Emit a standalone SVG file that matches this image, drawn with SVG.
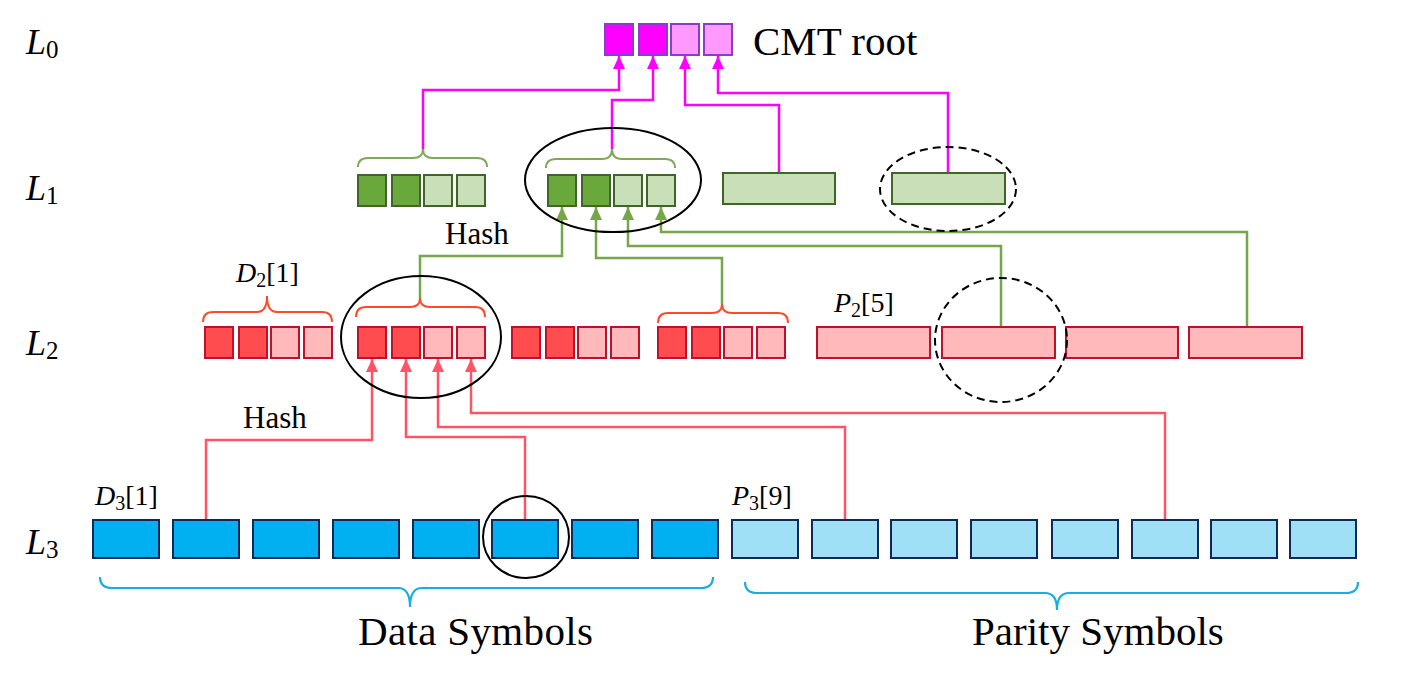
<svg xmlns="http://www.w3.org/2000/svg" width="1427" height="682" viewBox="0 0 1427 682">
<defs>
<style>
text{font-family:"Liberation Serif","Times New Roman",serif;fill:#000}
.lvl{font-size:36px}
.lbl{font-size:28px}
.big{font-size:41px}
.hash{font-size:31px}
.r0d{fill:#FF00FF;stroke:#8A3CCF;stroke-width:2}
.r0l{fill:#FF99FF;stroke:#8A3CCF;stroke-width:2}
.g1d{fill:#6BA83C;stroke:#3F6529;stroke-width:2}
.g1l{fill:#C9DFB8;stroke:#3F6529;stroke-width:2}
.r2d{fill:#FF4D4F;stroke:#C0102A;stroke-width:2}
.r2l{fill:#FFB9BB;stroke:#C0102A;stroke-width:2}
.b3d{fill:#00B0F0;stroke:#102A55;stroke-width:2}
.b3l{fill:#A0E0F6;stroke:#102A55;stroke-width:2}
.brg{fill:none;stroke:#7FA85A;stroke-width:2}
.brr{fill:none;stroke:#FF4A2A;stroke-width:2}
.brb{fill:none;stroke:#19AEDC;stroke-width:2.2}
.cm{fill:none;stroke:#FF00FF;stroke-width:2.5;marker-end:url(#am)}
.cg{fill:none;stroke:#76A64A;stroke-width:2.5;marker-end:url(#ag)}
.cr{fill:none;stroke:#FF5466;stroke-width:2.5;marker-end:url(#ar)}
.ell{fill:none;stroke:#000;stroke-width:2}
.dash{fill:none;stroke:#000;stroke-width:2;stroke-dasharray:8 5}
</style>
<marker id="am" markerUnits="userSpaceOnUse" markerWidth="13" markerHeight="12" refX="13" refY="6" orient="auto"><path d="M0,0 L13,6 L0,12 z" fill="#FF00FF"/></marker>
<marker id="ag" markerUnits="userSpaceOnUse" markerWidth="13" markerHeight="12" refX="13" refY="6" orient="auto"><path d="M0,0 L13,6 L0,12 z" fill="#76A64A"/></marker>
<marker id="ar" markerUnits="userSpaceOnUse" markerWidth="13" markerHeight="12" refX="13" refY="6" orient="auto"><path d="M0,0 L13,6 L0,12 z" fill="#FF5466"/></marker>
</defs>
<rect width="1427" height="682" fill="#fff"/>

<g id="level-labels">
<text class="lvl" x="26" y="54"><tspan font-style="italic">L</tspan><tspan font-size="25" dy="4">0</tspan></text>
<text class="lvl" x="26" y="200"><tspan font-style="italic">L</tspan><tspan font-size="25" dy="4">1</tspan></text>
<text class="lvl" x="26" y="355"><tspan font-style="italic">L</tspan><tspan font-size="25" dy="4">2</tspan></text>
<text class="lvl" x="26" y="554"><tspan font-style="italic">L</tspan><tspan font-size="25" dy="4">3</tspan></text>
</g>

<g id="connectors">
<path class="cm" d="M423,149 V90 H619 V56"/>
<path class="cm" d="M612,149 V100 H653 V56"/>
<path class="cm" d="M779,173 V105 H685 V56"/>
<path class="cm" d="M948,173 V93 H718 V56"/>
<path class="cg" d="M420,298 V256 H562 V207"/>
<path class="cg" d="M722,304 V258 H596 V207"/>
<path class="cg" d="M1001,327 V246 H628 V207"/>
<path class="cg" d="M1247,327 V232 H661 V207"/>
<path class="cr" d="M206,520 V440 H372 V359"/>
<path class="cr" d="M525,520 V437 H406 V359"/>
<path class="cr" d="M845,520 V427 H438 V359"/>
<path class="cr" d="M1165,520 V413 H471 V359"/>
</g>

<g id="cmt-root">
<rect class="r0d" x="605" y="24" width="28" height="31"/>
<rect class="r0d" x="639" y="24" width="28" height="31"/>
<rect class="r0l" x="671" y="24" width="28" height="31"/>
<rect class="r0l" x="704" y="24" width="28" height="31"/>
<text class="big" x="753" y="55">CMT root</text>
</g>

<g id="l1-group1">
<path class="brg" d="M358,167 Q358,158 368,158 L413,158 Q423,158 423,149 Q423,158 433,158 L477,158 Q487,158 487,167"/>
<rect class="g1d" x="358" y="175" width="28" height="31"/>
<rect class="g1d" x="392" y="175" width="28" height="31"/>
<rect class="g1l" x="424" y="175" width="28" height="31"/>
<rect class="g1l" x="457" y="175" width="28" height="31"/>
</g>
<g id="l1-group2">
<path class="brg" d="M546,168 Q546,159 556,159 L602,159 Q612,159 612,149 Q612,159 622,159 L665,159 Q675,159 675,168"/>
<rect class="g1d" x="548" y="175" width="28" height="31"/>
<rect class="g1d" x="582" y="175" width="28" height="31"/>
<rect class="g1l" x="614" y="175" width="28" height="31"/>
<rect class="g1l" x="647" y="175" width="28" height="31"/>
<ellipse class="ell" cx="613" cy="180" rx="88" ry="52"/>
</g>
<g id="l1-parity1">
<rect class="g1l" x="723" y="173" width="112" height="31"/>
</g>
<g id="l1-parity2">
<rect class="g1l" x="892" y="173" width="113" height="31"/>
<ellipse class="dash" cx="948" cy="189" rx="68" ry="42"/>
</g>

<g id="hash-labels">
<text class="hash" x="445" y="244">Hash</text>
<text class="hash" x="243" y="428">Hash</text>
</g>

<g id="l2-group1">
<text class="lbl" x="236" y="282"><tspan font-style="italic">D</tspan><tspan font-size="20" dy="5">2</tspan><tspan dy="-5">[1]</tspan></text>
<path class="brr" d="M203,322 Q203,312 213,312 L257,312 Q267,312 267,296 Q267,312 277,312 L322,312 Q332,312 332,322"/>
<rect class="r2d" x="205" y="327" width="28" height="31"/>
<rect class="r2d" x="239" y="327" width="28" height="31"/>
<rect class="r2l" x="271" y="327" width="28" height="31"/>
<rect class="r2l" x="304" y="327" width="28" height="31"/>
</g>
<g id="l2-group2">
<path class="brr" d="M356,317 Q356,307 366,307 L410,307 Q420,307 420,298 Q420,307 430,307 L475,307 Q485,307 485,317"/>
<rect class="r2d" x="358" y="327" width="28" height="31"/>
<rect class="r2d" x="392" y="327" width="28" height="31"/>
<rect class="r2l" x="424" y="327" width="28" height="31"/>
<rect class="r2l" x="457" y="327" width="28" height="31"/>
<ellipse class="ell" cx="421" cy="337" rx="80" ry="61"/>
</g>
<g id="l2-group3">
<rect class="r2d" x="512" y="327" width="28" height="31"/>
<rect class="r2d" x="546" y="327" width="28" height="31"/>
<rect class="r2l" x="578" y="327" width="28" height="31"/>
<rect class="r2l" x="611" y="327" width="28" height="31"/>
</g>
<g id="l2-group4">
<path class="brr" d="M658,323 Q658,313 668,313 L712,313 Q722,313 722,304 Q722,313 732,313 L778,313 Q788,313 788,323"/>
<rect class="r2d" x="658" y="327" width="28" height="31"/>
<rect class="r2d" x="692" y="327" width="28" height="31"/>
<rect class="r2l" x="724" y="327" width="28" height="31"/>
<rect class="r2l" x="757" y="327" width="28" height="31"/>
</g>
<g id="l2-parity">
<text class="lbl" x="834" y="312"><tspan font-style="italic">P</tspan><tspan font-size="20" dy="5">2</tspan><tspan dy="-5">[5]</tspan></text>
<rect class="r2l" x="817" y="327" width="113" height="31"/>
<rect class="r2l" x="942" y="327" width="113" height="31"/>
<rect class="r2l" x="1066" y="327" width="112" height="31"/>
<rect class="r2l" x="1189" y="327" width="113" height="31"/>
<ellipse class="dash" cx="1001" cy="340" rx="66" ry="62"/>
</g>

<g id="l3-data">
<text class="lbl" x="95" y="505"><tspan font-style="italic">D</tspan><tspan font-size="20" dy="5">3</tspan><tspan dy="-5">[1]</tspan></text>
<rect class="b3d" x="93" y="520" width="66" height="38"/>
<rect class="b3d" x="173" y="520" width="66" height="38"/>
<rect class="b3d" x="253" y="520" width="66" height="38"/>
<rect class="b3d" x="333" y="520" width="66" height="38"/>
<rect class="b3d" x="413" y="520" width="66" height="38"/>
<rect class="b3d" x="492" y="520" width="66" height="38"/>
<rect class="b3d" x="572" y="520" width="66" height="38"/>
<rect class="b3d" x="652" y="520" width="66" height="38"/>
<ellipse class="ell" cx="526" cy="537" rx="43" ry="41"/>
<path class="brb" d="M100,577 Q100,588 112,588 L398,588 Q410,588 410,607 Q410,588 422,588 L701,588 Q713,588 713,577"/>
<text class="big" x="358" y="645" textLength="235">Data Symbols</text>
</g>

<g id="l3-parity">
<text class="lbl" x="732" y="505"><tspan font-style="italic">P</tspan><tspan font-size="20" dy="5">3</tspan><tspan dy="-5">[9]</tspan></text>
<rect class="b3l" x="732" y="520" width="66" height="38"/>
<rect class="b3l" x="812" y="520" width="66" height="38"/>
<rect class="b3l" x="891" y="520" width="66" height="38"/>
<rect class="b3l" x="971" y="520" width="66" height="38"/>
<rect class="b3l" x="1052" y="520" width="66" height="38"/>
<rect class="b3l" x="1132" y="520" width="66" height="38"/>
<rect class="b3l" x="1211" y="520" width="66" height="38"/>
<rect class="b3l" x="1290" y="520" width="66" height="38"/>
<path class="brb" d="M745,582 Q745,593 757,593 L1045,593 Q1057,593 1057,610 Q1057,593 1069,593 L1346,593 Q1358,593 1358,582"/>
<text class="big" x="972" y="645">Parity Symbols</text>
</g>
</svg>
